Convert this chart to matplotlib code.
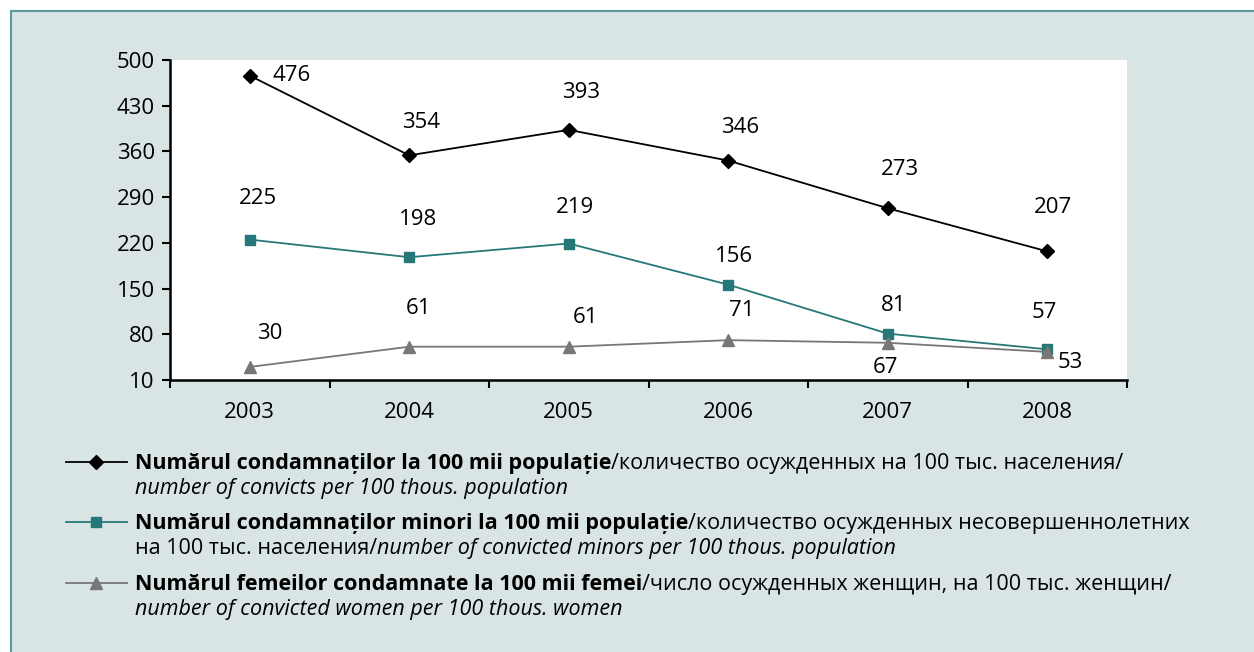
import numpy as np
import matplotlib.pyplot as plt
from matplotlib.lines import Line2D
from matplotlib.patches import Rectangle

plt.rcParams['font.family'] = ['Open Sans', 'DejaVu Sans']

years = ['2003', '2004', '2005', '2006', '2007', '2008']
convicts = [476, 354, 393, 346, 273, 207]
minors = [225, 198, 219, 156, 81, 57]
women = [30, 61, 61, 71, 67, 53]

yticks = [10, 80, 150, 220, 290, 360, 430, 500]

# label offsets in pixels (dx, dy up)
off_convicts = [(42, 0), (12, 33), (12, 37), (12, 33), (12, 39), (6, 44)]
off_minors = [(8, 41), (9, 38), (6, 36), (6, 28), (6, 28), (-3, 37)]
off_women = [(20, 33), (9, 38), (17, 29), (14, 30), (-2, -25), (23, -11)]

W, H = 1254, 652
bg = '#d9e5e5'
teal = '#267878'
grey = '#777777'

fig = plt.figure(figsize=(W / 100, H / 100), dpi=100, facecolor='white')
fig.patches.append(Rectangle((11 / W, -0.1), 1.2, 1.1 - 11 / H, transform=fig.transFigure,
                             facecolor=bg, edgecolor='#5b9a9a', linewidth=1.5, zorder=-10))

ax = fig.add_axes([170 / W, 1 - 380 / H, (1127 - 170) / W, 320 / H])
ax.set_facecolor('white')

x = np.arange(len(years))
ax.plot(x, convicts, '-D', color='black', lw=1.3, ms=7.5, clip_on=False)
ax.plot(x, minors, '-s', color=teal, lw=1.3, ms=7.5, clip_on=False)
ax.plot(x, women, '-^', color=grey, lw=1.3, ms=9, clip_on=False)

for vals, offs in [(convicts, off_convicts), (minors, off_minors), (women, off_women)]:
    for i, (v, (dx, dy)) in enumerate(zip(vals, offs)):
        ax.annotate(str(v), (i, v), xytext=(dx * 0.72, dy * 0.72), textcoords='offset points',
                    ha='center', va='center', fontsize=16)

ax.set_xlim(-0.5, len(years) - 0.5)
ax.set_ylim(10, 500)
ax.set_yticks(yticks)
ax.set_xticks(x)
ax.set_xticklabels(years)
ax.set_xticks(np.arange(len(years) + 1) - 0.5, minor=True)
ax.tick_params(axis='x', which='major', length=0, pad=16, labelsize=16)
ax.tick_params(axis='x', which='minor', length=6, width=1.5, direction='out')
ax.tick_params(axis='y', length=6, width=1.5, direction='out', labelsize=16, pad=5)
for s in ['top', 'right']:
    ax.spines[s].set_visible(False)
for s in ['left', 'bottom']:
    ax.spines[s].set_linewidth(1.8)

# legend drawn by hand
legend_rows = [
    ('black', 'D', 7, 462, [
        [('Numărul condamnaților la 100 mii populație', 'bold', 'normal'),
         ('/количество осужденных на 100 тыс. населения/', 'normal', 'normal')],
        [('number of convicts per 100 thous. population', 'normal', 'italic')]]),
    (teal, 's', 7, 522, [
        [('Numărul condamnaților minori la 100 mii populație', 'bold', 'normal'),
         ('/количество осужденных несовершеннолетних', 'normal', 'normal')],
        [('на 100 тыс. населения/', 'normal', 'normal'),
         ('number of convicted minors per 100 thous. population', 'normal', 'italic')]]),
    (grey, '^', 8.5, 583, [
        [('Numărul femeilor condamnate la 100 mii femei', 'bold', 'normal'),
         ('/число осужденных женщин, на 100 тыс. женщин/', 'normal', 'normal')],
        [('number of convicted women per 100 thous. women', 'normal', 'italic')]]),
]

renderer = fig.canvas.get_renderer()
for color, marker, ms, yc, lines in legend_rows:
    fig.add_artist(Line2D([66 / W, 127 / W], [1 - yc / H] * 2, color=color, lw=1.3,
                          transform=fig.transFigure))
    fig.add_artist(Line2D([96 / W], [1 - yc / H], color=color, marker=marker, ms=ms,
                          transform=fig.transFigure))
    for j, pieces in enumerate(lines):
        xp = 135
        yb = yc + 7 + j * 25
        for txt, weight, style in pieces:
            t = fig.text(xp / W, 1 - yb / H, txt, fontsize=15.5, fontweight=weight,
                         fontstyle=style, va='baseline', ha='left')
            bb = t.get_window_extent(renderer)
            xp += bb.width

fig.savefig('out.png', dpi=100, facecolor=fig.get_facecolor())
